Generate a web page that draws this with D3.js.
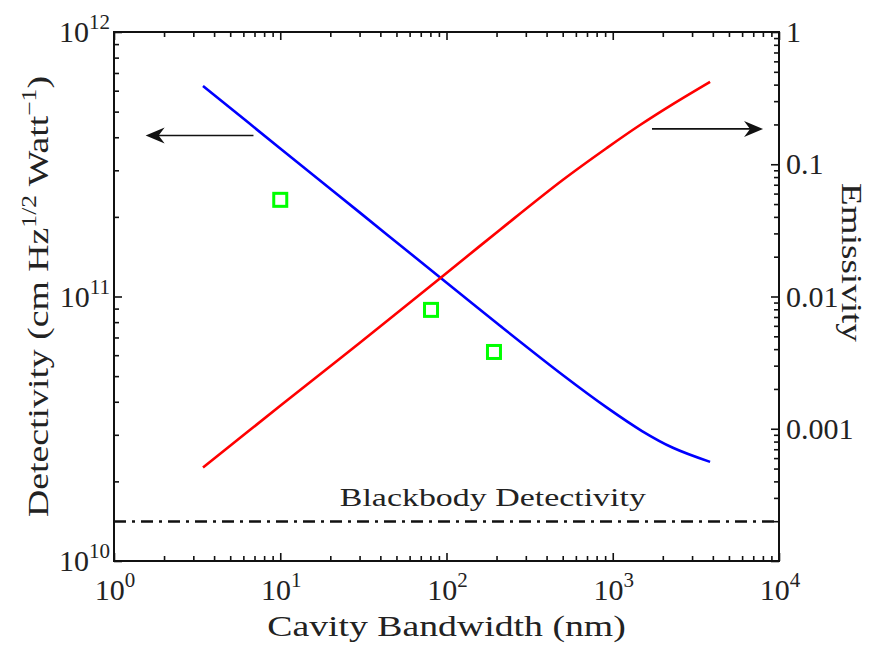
<!DOCTYPE html>
<html>
<head>
<meta charset="utf-8">
<script src="https://cdn.jsdelivr.net/npm/d3@7"></script>
<style>
  body { margin: 0; background: #fff; }
  svg { display: block; }
  text { font-family: "Liberation Serif", "Times New Roman", serif; fill: #222; }
</style>
</head>
<body>
<div class="chart-container"></div>
<script>
// Data.
const blueBandwidth = [3.43, 10, 30, 90, 210, 500, 923, 1500, 2300, 3850];
const detectivity = [6.25e11, 3.63e11, 2.08e11, 1.19e11, 7.75e10, 5.05e10, 3.8e10, 3.1e10, 2.68e10, 2.37e10];

const redBandwidth = [3.43, 10, 30, 90, 210, 500, 923, 1460, 2300, 3850];
const emissivity = [5.1e-4, 1.49e-3, 4.45e-3, 0.0135, 0.032, 0.076, 0.133, 0.198, 0.285, 0.42];

const measuredBandwidth = [10, 80.7, 193];
const measuredDetectivity = [2.32e11, 8.9e10, 6.17e10];

const blackbodyDetectivity = 1.41e10;

const xTickExp = [0, 1, 2, 3, 4];
const leftTickExp = [10, 11, 12];
const rightTickValues = [1, 0.1, 0.01, 0.001];
const rightTickLabels = ['1', '0.1', '0.01', '0.001'];

// Arrow annotations: [from, to] in data units.
const leftArrow = { bw: [6.9, 1.55], det: 4.06e11 };
const rightArrow = { bw: [1722, 8017], em: 0.185 };

// Dimensions.
const W = 876, H = 648;
const margin = { top: 32, right: 97, bottom: 87, left: 114 };
const x0 = margin.left, x1 = W - margin.right;
const y0 = H - margin.bottom, y1 = margin.top;

const xScale = d3.scaleLog().domain([1, 1e4]).range([x0, x1]);
const yLeft = d3.scaleLog().domain([1e10, 1e12]).range([y0, y1]);
const yRight = d3.scaleLog().domain([1e-4, 1]).range([y0, y1]);

function minorTicks(lo, hi) {
  const out = [];
  for (let e = lo; e < hi; e++) {
    for (let m = 2; m <= 9; m++) out.push(m * Math.pow(10, e));
  }
  return out;
}

const svg = d3.select('.chart-container')
  .append('svg')
  .attr('width', W)
  .attr('height', H);

// Ticks (all pointing inward).
function tickAxis(axis, values, size, transform) {
  const g = svg.append('g')
    .attr('transform', transform)
    .call(axis.tickValues(values).tickSize(size).tickFormat(''));
  g.select('.domain').remove();
  g.selectAll('line').attr('stroke', '#111').attr('stroke-width', 1.6);
}

const xMajor = xTickExp.map(e => Math.pow(10, e));
const xMinor = minorTicks(0, 4);
tickAxis(d3.axisBottom(xScale), xMajor, -8, `translate(0,${y0})`);
tickAxis(d3.axisBottom(xScale), xMinor, -5, `translate(0,${y0})`);
tickAxis(d3.axisTop(xScale), xMajor, -8, `translate(0,${y1})`);
tickAxis(d3.axisTop(xScale), xMinor, -5, `translate(0,${y1})`);

const lMajor = leftTickExp.map(e => Math.pow(10, e));
tickAxis(d3.axisLeft(yLeft), lMajor, -8, `translate(${x0},0)`);
tickAxis(d3.axisLeft(yLeft), minorTicks(10, 12), -5, `translate(${x0},0)`);

tickAxis(d3.axisRight(yRight), [1e-4, 1e-3, 1e-2, 1e-1, 1], -8, `translate(${x1},0)`);
tickAxis(d3.axisRight(yRight), minorTicks(-4, 0), -5, `translate(${x1},0)`);

// Frame.
svg.append('rect')
  .attr('x', x0).attr('y', y1)
  .attr('width', x1 - x0).attr('height', y0 - y1)
  .attr('fill', 'none')
  .attr('stroke', '#111')
  .attr('stroke-width', 2);

// Tick labels.
function powerLabel(g, base, exp) {
  const t = g.append('text').style('font-size', '30px');
  t.append('tspan').text(base);
  t.append('tspan').attr('dy', -13).style('font-size', '21px').text(exp);
  return t;
}

xTickExp.forEach(e => {
  const g = svg.append('g').attr('transform', `translate(${xScale(Math.pow(10, e)) + 1},${y0 + 39})`);
  powerLabel(g, '10', e).attr('text-anchor', 'middle');
});

leftTickExp.forEach(e => {
  const g = svg.append('g').attr('transform', `translate(${x0 - 4},${yLeft(Math.pow(10, e)) + 10})`);
  powerLabel(g, '10', e).attr('text-anchor', 'end');
});

rightTickValues.forEach((v, i) => {
  svg.append('text')
    .attr('x', x1 + 7)
    .attr('y', yRight(v) + 10)
    .style('font-size', '30px')
    .text(rightTickLabels[i]);
});

// Axis titles (slightly widened glyphs, like the LaTeX original).
const SX = 1.28;
svg.append('text')
  .attr('transform', `translate(${(x0 + x1) / 2},${H - 12}) scale(${SX},1)`)
  .attr('text-anchor', 'middle')
  .style('font-size', '29.5px')
  .text('Cavity Bandwidth (nm)');

const leftTitle = svg.append('text')
  .attr('transform', `translate(48,${(y0 + y1) / 2}) rotate(-90) scale(${SX},1)`)
  .attr('text-anchor', 'middle')
  .style('font-size', '29.5px');
leftTitle.append('tspan').text('Detectivity (cm Hz');
leftTitle.append('tspan').attr('dy', -12).style('font-size', '20px').text('1/2');
leftTitle.append('tspan').attr('dy', 12).text(' Watt');
leftTitle.append('tspan').attr('dy', -12).style('font-size', '20px').text('\u22121');
leftTitle.append('tspan').attr('dy', 12).text(')');

svg.append('text')
  .attr('transform', `translate(842,${(y0 + y1) / 2 - 34}) rotate(90) scale(${SX},1)`)
  .attr('text-anchor', 'middle')
  .style('font-size', '29px')
  .text('Emissivity');

// Blackbody line.
svg.append('line')
  .attr('x1', x0).attr('x2', x1)
  .attr('y1', yLeft(blackbodyDetectivity))
  .attr('y2', yLeft(blackbodyDetectivity))
  .attr('stroke', '#111')
  .attr('stroke-width', 2.5)
  .attr('stroke-dasharray', '12,6,3,6');

svg.append('text')
  .attr('transform', `translate(${xScale(190)},${yLeft(blackbodyDetectivity) - 16}) scale(1.33,1)`)
  .attr('text-anchor', 'middle')
  .style('font-size', '25.5px')
  .text('Blackbody Detectivity');

// Curves.
const blueData = blueBandwidth.map((b, i) => ({ x: b, y: detectivity[i] }));
const redData = redBandwidth.map((b, i) => ({ x: b, y: emissivity[i] }));

const blueLine = d3.line()
  .x(d => xScale(d.x))
  .y(d => yLeft(d.y))
  .curve(d3.curveCatmullRom.alpha(0.5));

const redLine = d3.line()
  .x(d => xScale(d.x))
  .y(d => yRight(d.y))
  .curve(d3.curveCatmullRom.alpha(0.5));

svg.append('path')
  .attr('d', blueLine(blueData))
  .attr('fill', 'none')
  .attr('stroke', '#0000ff')
  .attr('stroke-width', 2.6);

svg.append('path')
  .attr('d', redLine(redData))
  .attr('fill', 'none')
  .attr('stroke', '#ff0000')
  .attr('stroke-width', 2.6);

// Measured points.
svg.selectAll('.measured')
  .data(measuredBandwidth.map((b, i) => ({ x: b, y: measuredDetectivity[i] })))
  .enter()
  .append('rect')
  .attr('class', 'measured')
  .attr('x', d => xScale(d.x) - 6.5)
  .attr('y', d => yLeft(d.y) - 6.5)
  .attr('width', 13)
  .attr('height', 13)
  .attr('fill', 'none')
  .attr('stroke', '#00ff00')
  .attr('stroke-width', 3);

// Arrows.
function arrow(xa, xb, y) {
  const dir = xb > xa ? -1 : 1;
  svg.append('line')
    .attr('x1', xa).attr('x2', xb + dir * 8)
    .attr('y1', y).attr('y2', y)
    .attr('stroke', '#111')
    .attr('stroke-width', 1.6);
  svg.append('path')
    .attr('d', `M${xb},${y} L${xb + dir * 19},${y - 8} L${xb + dir * 13},${y} L${xb + dir * 19},${y + 8} Z`)
    .attr('fill', '#111');
}
arrow(xScale(leftArrow.bw[0]), xScale(leftArrow.bw[1]), yLeft(leftArrow.det));
arrow(xScale(rightArrow.bw[0]), xScale(rightArrow.bw[1]), yRight(rightArrow.em));
</script>
</body>
</html>
